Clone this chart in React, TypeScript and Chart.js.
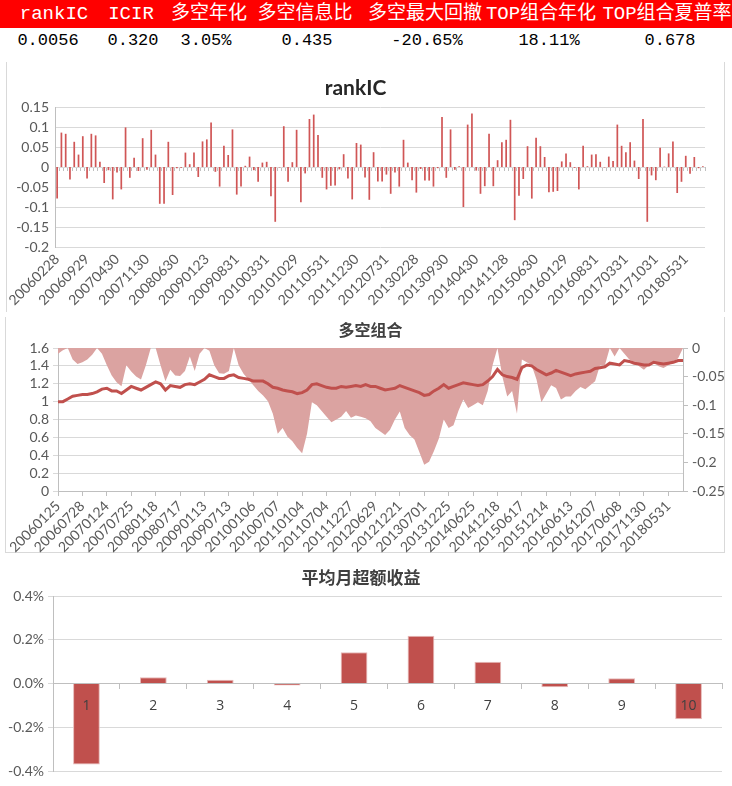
import React, { useEffect, useRef } from 'react';
import { Chart, registerables } from 'chart.js';

Chart.register(...registerables);

// ---------- summary table ----------
const HEADERS = ['rankIC', 'ICIR', '多空年化', '多空信息比', '多空最大回撤', 'TOP组合年化', 'TOP组合夏普率'];
const VALUES = ['0.0056', '0.320', '3.05%', '0.435', '-20.65%', '18.11%', '0.678'];
const HEADER_X = [54, 131, 209, 305, 425, 541, 667];
const VALUE_X = [48, 133, 206, 307, 427, 549, 670];

// ---------- rankIC (monthly) ----------
const IC_TICKS = [
  '20060228', '20060929', '20070430', '20071130', '20080630', '20090123', '20090831', '20100331',
  '20101029', '20110531', '20111230', '20120731', '20130228', '20130930', '20140430', '20141128',
  '20150630', '20160129', '20160831', '20170331', '20171031', '20180531',
];
const RANK_IC = [
  -0.079, 0.086, 0.083, -0.031, 0.063, 0.031, 0.077, -0.029, 0.083, 0.079,
  0.013, -0.040, -0.008, -0.081, -0.014, -0.056, 0.099, -0.027, 0.023, -0.010,
  0.072, -0.007, 0.093, 0.031, -0.092, -0.092, 0.063, -0.070, -0.003, -0.002,
  0.036, 0.007, 0.036, -0.025, 0.064, 0.069, 0.111, -0.012, -0.049, 0.053,
  0.030, 0.094, -0.069, -0.049, 0.003, 0.026, -0.008, -0.037, 0.011, 0.013,
  -0.073, -0.137, -0.001, 0.102, -0.037, 0.012, 0.093, -0.088, -0.016, 0.120,
  0.131, 0.080, -0.027, -0.056, -0.047, -0.046, -0.006, 0.032, -0.029, -0.081,
  0.060, 0.056, -0.026, -0.082, 0.037, -0.036, -0.036, -0.019, -0.067, -0.014,
  -0.049, 0.068, 0.011, -0.033, -0.064, -0.005, -0.034, -0.034, -0.049, -0.003,
  0.125, -0.027, 0.094, -0.007, 0.002, -0.100, 0.106, 0.134, -0.009, -0.067,
  -0.048, 0.083, -0.048, 0.017, 0.062, 0.068, 0.118, -0.133, -0.072, -0.030,
  0.052, -0.079, 0.073, 0.052, 0.025, -0.063, -0.062, -0.060, 0.014, 0.034,
  0.012, -0.002, -0.056, 0.053, 0.002, 0.031, 0.032, 0.013, -0.001, 0.026,
  0.015, 0.106, 0.053, 0.037, 0.062, 0.016, -0.030, 0.120, -0.137, -0.021,
  -0.033, 0.048, 0.001, 0.034, 0.064, -0.065, -0.037, 0.028, -0.017, 0.025,
  -0.003, 0.002,
];

// ---------- long-short portfolio (sampled) ----------
const LS_TICKS = [
  '20060125', '20060728', '20070124', '20070725', '20080118', '20080717', '20090113', '20090713',
  '20100106', '20100707', '20110104', '20110704', '20111227', '20120629', '20121221', '20130701',
  '20131225', '20140625', '20141218', '20150617', '20151214', '20160613', '20161207', '20170608',
  '20171130', '20180531',
];
const NAV = [
  1.00, 1.00, 1.03, 1.06, 1.07, 1.08, 1.08, 1.09, 1.11, 1.14,
  1.15, 1.12, 1.12, 1.09, 1.13, 1.17, 1.15, 1.13, 1.16, 1.19,
  1.22, 1.20, 1.13, 1.18, 1.17, 1.16, 1.19, 1.20, 1.19, 1.22,
  1.25, 1.30, 1.28, 1.26, 1.26, 1.29, 1.30, 1.27, 1.26, 1.25,
  1.23, 1.23, 1.23, 1.20, 1.16, 1.15, 1.13, 1.12, 1.11, 1.09,
  1.10, 1.13, 1.19, 1.20, 1.18, 1.16, 1.15, 1.15, 1.17, 1.16,
  1.17, 1.18, 1.17, 1.19, 1.17, 1.17, 1.15, 1.13, 1.14, 1.15,
  1.18, 1.16, 1.14, 1.12, 1.10, 1.07, 1.08, 1.12, 1.15, 1.19,
  1.15, 1.17, 1.19, 1.21, 1.20, 1.19, 1.18, 1.19, 1.23, 1.28,
  1.36, 1.30, 1.28, 1.27, 1.25, 1.38, 1.41, 1.40, 1.36, 1.33,
  1.30, 1.32, 1.35, 1.33, 1.31, 1.29, 1.31, 1.32, 1.33, 1.34,
  1.37, 1.38, 1.39, 1.43, 1.42, 1.41, 1.46, 1.45, 1.43, 1.42,
  1.41, 1.41, 1.44, 1.43, 1.42, 1.43, 1.44, 1.46, 1.46,
];
const DRAWDOWN = [
  -0.010, -0.004, 0.000, -0.020, -0.028, -0.025, -0.020, -0.012, 0.000, -0.010,
  -0.030, -0.048, -0.060, -0.067, -0.030, -0.041, -0.050, -0.055, -0.030, 0.000,
  0.000, -0.030, -0.058, -0.038, -0.048, -0.049, -0.040, -0.015, -0.040, -0.010,
  0.000, -0.005, -0.030, -0.044, -0.045, -0.040, 0.000, -0.030, -0.045, -0.055,
  -0.065, -0.075, -0.083, -0.093, -0.115, -0.150, -0.140, -0.155, -0.163, -0.175,
  -0.184, -0.150, -0.095, -0.100, -0.110, -0.120, -0.130, -0.125, -0.120, -0.110,
  -0.122, -0.118, -0.120, -0.123, -0.128, -0.140, -0.146, -0.152, -0.143, -0.125,
  -0.111, -0.140, -0.152, -0.160, -0.182, -0.204, -0.199, -0.180, -0.158, -0.125,
  -0.140, -0.135, -0.110, -0.090, -0.105, -0.100, -0.095, -0.100, -0.075, -0.030,
  0.000, -0.050, -0.085, -0.075, -0.115, -0.020, -0.025, -0.030, -0.055, -0.095,
  -0.080, -0.065, -0.070, -0.090, -0.085, -0.085, -0.075, -0.068, -0.072, -0.065,
  -0.058, -0.030, -0.030, 0.000, -0.015, 0.000, -0.010, -0.020, -0.025, -0.032,
  -0.038, -0.030, -0.025, -0.032, -0.035, -0.030, -0.025, -0.018, 0.000,
];

// ---------- average monthly excess return by group ----------
const GROUPS = ['1', '2', '3', '4', '5', '6', '7', '8', '9', '10'];
const EXCESS = [-0.0037, 0.00029, 0.00017, -0.00009, 0.00143, 0.00218, 0.00099, -0.00017, 0.00024, -0.00163];

const TICK_COLOR = '#595959';
const GRID_COLOR = '#d9d9d9';
const AXIS_COLOR = '#bfbfbf';
const FONT = 'Lato';
const TABLE_FONT = '"Liberation Mono", "Noto Sans CJK SC", monospace';

const plainNum = (v: any) => {
  const n = Math.round(Number(v) * 1000) / 1000;
  return String(n === 0 ? 0 : n);
};

export default function App() {
  const c1 = useRef<HTMLCanvasElement>(null);
  const c2 = useRef<HTMLCanvasElement>(null);
  const c3 = useRef<HTMLCanvasElement>(null);

  useEffect(() => {
    const charts: Chart[] = [];
    const tickFont = { family: FONT, size: 14 };

    // rankIC
    const icLabels = RANK_IC.map((_, i) => (i % 7 === 0 ? IC_TICKS[i / 7] || '' : ''));
    charts.push(
      new Chart(c1.current!, {
        type: 'bar',
        data: {
          labels: icLabels,
          datasets: [{ data: RANK_IC, backgroundColor: '#d05656', barPercentage: 0.4, categoryPercentage: 1 }],
        },
        options: {
          responsive: false,
          animation: false,
          layout: { padding: { left: 0, right: 19, top: 0, bottom: 0 } },
          plugins: {
            legend: { display: false },
            tooltip: { enabled: false },
            title: {
              display: true,
              text: 'rankIC',
              color: '#262626',
              font: { family: FONT, size: 21, weight: 'bold' },
              padding: { top: 14, bottom: 5.8 },
            },
          },
          scales: {
            x: {
              type: 'category',
              offset: true,
              grid: { display: false, drawTicks: false },
              border: { display: false },
              ticks: {
                autoSkip: false,
                maxRotation: 45,
                minRotation: 45,
                padding: 4,
                color: TICK_COLOR,
                font: tickFont,
                callback: (_v: any, i: number) => icLabels[i] || null,
              },
              afterFit: (s: any) => { s.height = 65; },
            },
            x2: {
              type: 'category',
              axis: 'x',
              position: { y: 0 },
              offset: true,
              grid: { offset: true, drawOnChartArea: false, tickLength: 4, color: AXIS_COLOR },
              border: { display: false },
              ticks: { display: false },
            } as any,
            y: {
              min: -0.2,
              max: 0.15,
              ticks: { stepSize: 0.05, autoSkip: false, color: TICK_COLOR, font: tickFont, padding: 6, callback: plainNum },
              grid: { color: GRID_COLOR, drawTicks: false },
              border: { color: AXIS_COLOR },
              afterFit: (s: any) => { s.width = 49; },
            },
          },
        },
      } as any)
    );

    // long-short portfolio
    const lsLabels = NAV.map((_, i) => (i % 5 === 0 ? LS_TICKS[i / 5] || '' : ''));
    charts.push(
      new Chart(c2.current!, {
        type: 'line',
        data: {
          labels: lsLabels,
          datasets: [
            {
              data: NAV,
              yAxisID: 'y',
              borderColor: '#c0504d',
              borderWidth: 3,
              pointRadius: 0,
              fill: false,
              tension: 0,
            },
            {
              data: DRAWDOWN,
              yAxisID: 'y2',
              borderColor: 'rgba(0,0,0,0)',
              borderWidth: 0,
              backgroundColor: '#dba3a1',
              pointRadius: 0,
              fill: 'origin',
              tension: 0,
            },
          ],
        },
        options: {
          responsive: false,
          animation: false,
          layout: { padding: 0 },
          plugins: {
            legend: { display: false },
            tooltip: { enabled: false },
            title: {
              display: true,
              fullSize: false,
              text: '多空组合',
              color: '#404040',
              font: { family: '"Noto Sans CJK SC"', size: 16, weight: 'bold' },
              padding: { top: 3.4, bottom: 8.4 },
            },
          },
          scales: {
            x: {
              type: 'category',
              offset: false,
              grid: { drawOnChartArea: false, tickLength: 5, color: AXIS_COLOR },
              border: { color: AXIS_COLOR },
              ticks: {
                autoSkip: false,
                maxRotation: 45,
                minRotation: 45,
                padding: 2,
                color: TICK_COLOR,
                font: tickFont,
                callback: (_v: any, i: number) => lsLabels[i] || null,
              },
              afterFit: (s: any) => { s.height = 62; },
            },
            y: {
              position: 'left',
              min: 0,
              max: 1.6,
              ticks: { stepSize: 0.2, autoSkip: false, color: TICK_COLOR, font: tickFont, padding: 4, callback: plainNum },
              grid: { color: GRID_COLOR, tickLength: 5 },
              border: { color: AXIS_COLOR },
              afterFit: (s: any) => { s.width = 58; },
            },
            y2: {
              position: 'right',
              min: -0.25,
              max: 0,
              ticks: { stepSize: 0.05, autoSkip: false, color: TICK_COLOR, font: tickFont, padding: 4, callback: plainNum },
              grid: { drawOnChartArea: false, tickLength: 5, color: AXIS_COLOR },
              border: { color: AXIS_COLOR },
              afterFit: (s: any) => { s.width = 49; },
            },
          },
        },
      } as any)
    );

    // average monthly excess return
    charts.push(
      new Chart(c3.current!, {
        type: 'bar',
        data: {
          labels: GROUPS,
          datasets: [
            {
              data: EXCESS,
              backgroundColor: '#c0504d',
              borderColor: '#e6b9b8',
              borderWidth: 1,
              barPercentage: 0.4,
              categoryPercentage: 1,
            },
          ],
        },
        options: {
          responsive: false,
          animation: false,
          layout: { padding: { left: 0, right: 10, top: 0, bottom: 15 } },
          plugins: {
            legend: { display: false },
            tooltip: { enabled: false },
            title: {
              display: true,
              text: '平均月超额收益',
              color: '#404040',
              font: { family: '"Noto Sans CJK SC"', size: 17, weight: 'bold' },
              padding: { top: 7, bottom: 8.6 },
            },
          },
          scales: {
            x: {
              type: 'category',
              position: { y: 0 },
              offset: true,
              grid: { offset: true, drawOnChartArea: false, tickLength: 5, color: AXIS_COLOR },
              border: { color: AXIS_COLOR },
              ticks: { z: 1, padding: 9, color: '#404040', font: { family: '"Open Sans"', size: 14 } },
            },
            y: {
              min: -0.004,
              max: 0.004,
              ticks: {
                stepSize: 0.002,
                autoSkip: false,
                color: TICK_COLOR,
                font: tickFont,
                padding: 4,
                callback: (v: any) => (Number(v) * 100).toFixed(1) + '%',
              },
              grid: { color: GRID_COLOR, tickLength: 5 },
              border: { color: AXIS_COLOR },
              afterFit: (s: any) => { s.width = 53; },
            },
          },
        },
      } as any)
    );

    return () => charts.forEach((c) => c.destroy());
  }, []);

  return (
    <div style={{ position: 'absolute', left: 0, top: 0, width: 732, height: 786, background: '#fff', overflow: 'hidden' }}>
      <div style={{ position: 'absolute', left: 0, top: 0, width: 732, height: 28, background: '#ff0000' }} />
      {HEADERS.map((h, i) => (
        <div
          key={'h' + i}
          style={{
            position: 'absolute',
            left: HEADER_X[i],
            top: 0,
            height: 28,
            lineHeight: '28px',
            transform: 'translateX(-50%)',
            whiteSpace: 'nowrap',
            color: '#fff',
            fontFamily: TABLE_FONT,
            fontSize: 19,
          }}
        >
          {h}
        </div>
      ))}
      {VALUES.map((v, i) => (
        <div
          key={'v' + i}
          style={{
            position: 'absolute',
            left: VALUE_X[i],
            top: 28,
            height: 26,
            lineHeight: '26px',
            transform: 'translateX(-50%)',
            whiteSpace: 'nowrap',
            color: '#000',
            fontFamily: TABLE_FONT,
            fontSize: 17,
          }}
        >
          {v}
        </div>
      ))}

      <div style={{ position: 'absolute', left: 6, top: 62, width: 717, height: 250, borderLeft: '1px solid #d9d9d9', borderRight: '1px solid #d9d9d9' }} />
      <canvas ref={c1} width={718} height={250} style={{ position: 'absolute', left: 6, top: 62 }} />

      <div style={{ position: 'absolute', left: 5, top: 317, width: 718, height: 235, borderLeft: '1px solid #d9d9d9', borderRight: '1px solid #d9d9d9', borderBottom: '1px solid #d9d9d9' }} />
      <canvas ref={c2} width={732} height={236} style={{ position: 'absolute', left: 0, top: 317 }} />

      <canvas ref={c3} width={732} height={226} style={{ position: 'absolute', left: 0, top: 560 }} />
    </div>
  );
}
